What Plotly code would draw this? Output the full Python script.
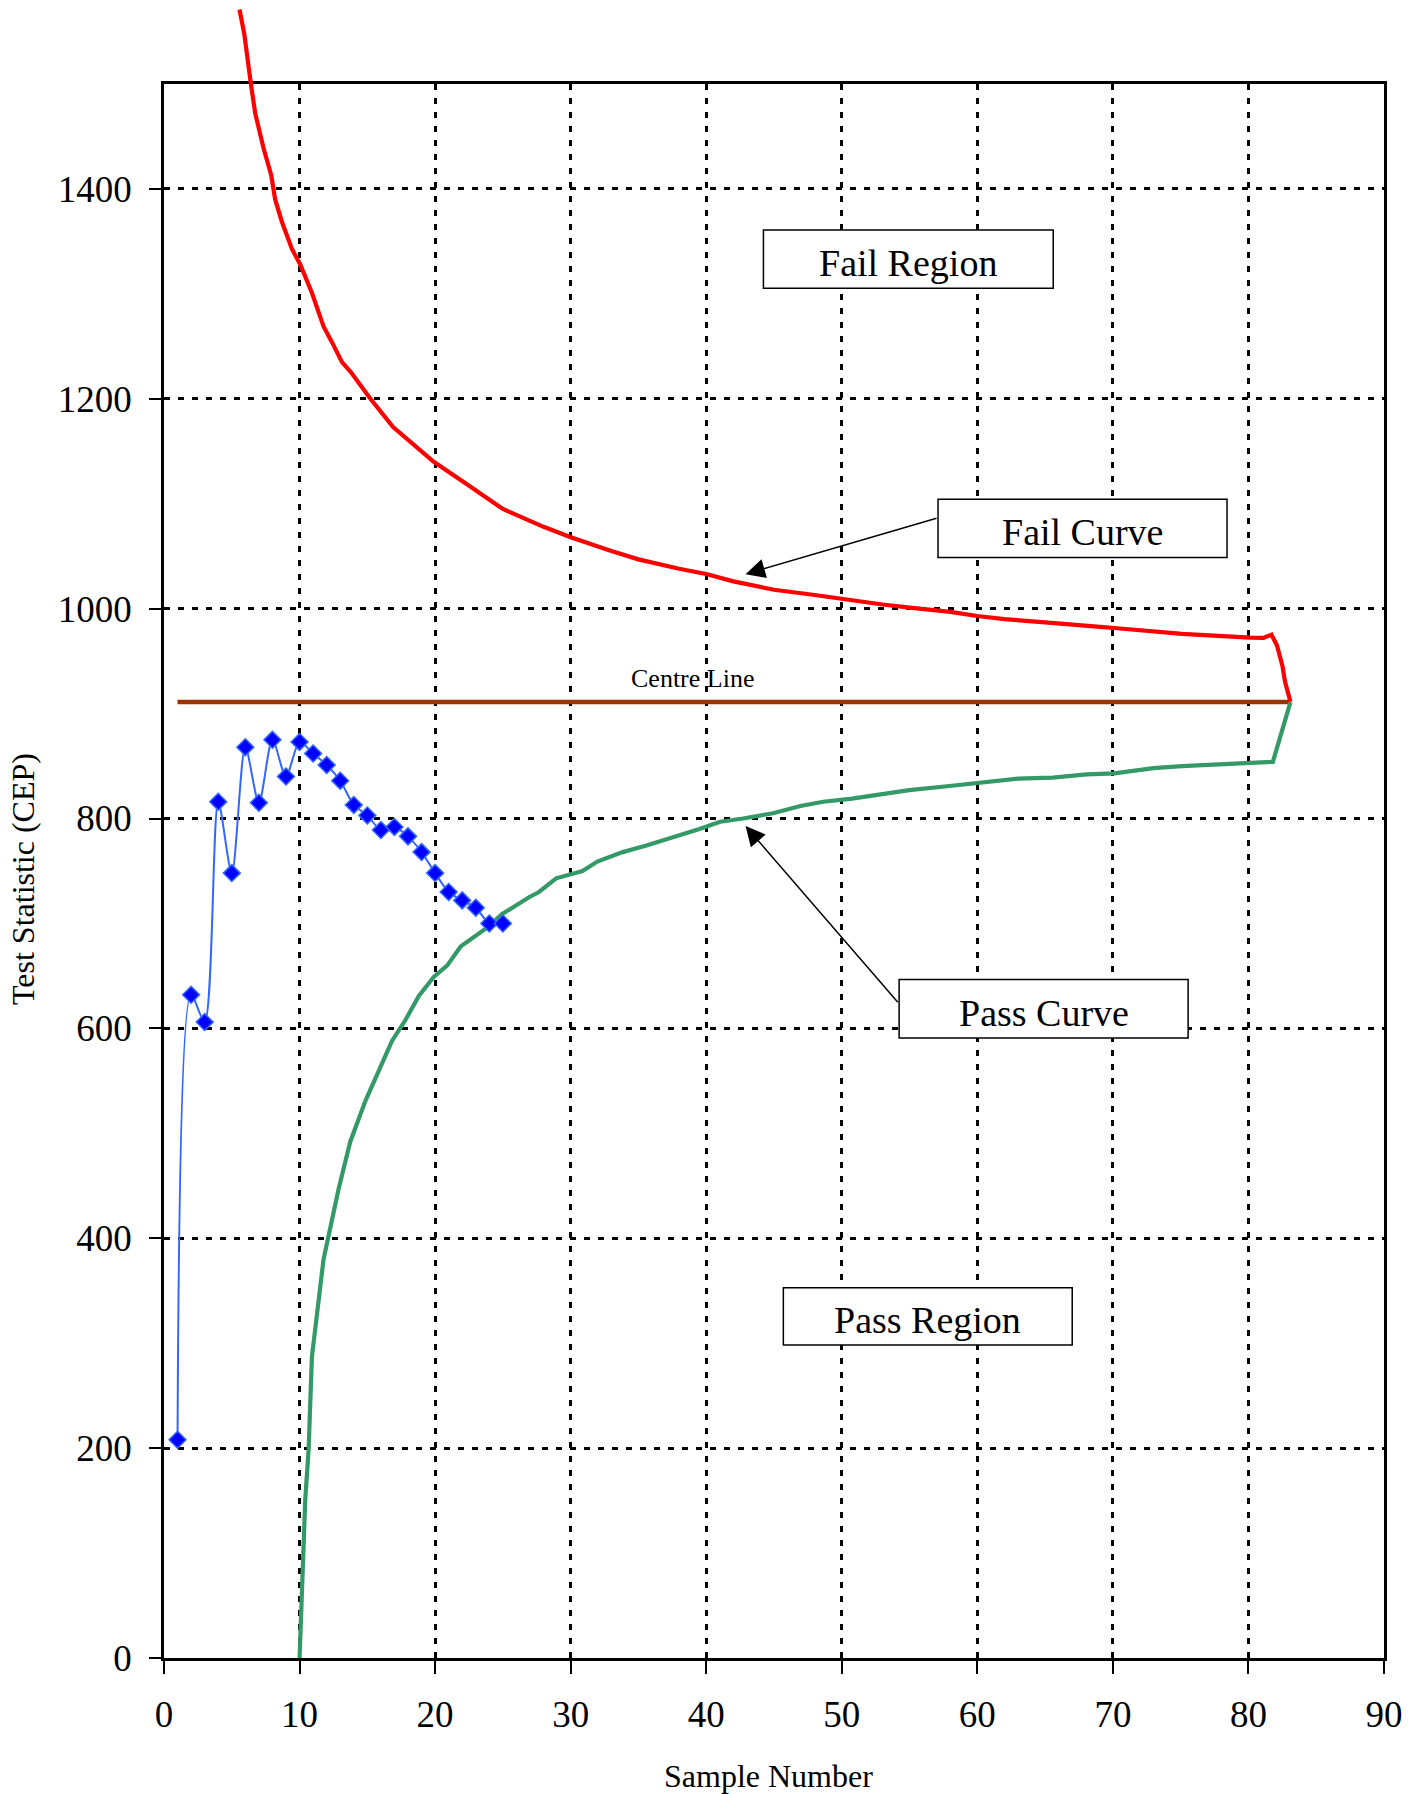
import plotly.graph_objects as go

# ---- data -------------------------------------------------------------
sample_no = list(range(1, 26))
test_stat = [208, 632, 606, 816, 748, 868, 815, 875, 840, 873, 862, 851, 836,
             813, 803, 789, 792, 783, 768, 748, 730, 722, 715, 700, 700]

fail_x = [5.57, 5.93, 6.40, 6.73, 7.34, 7.91, 8.20, 8.69, 9.43, 10.05, 10.91,
          11.77, 12.39, 13.13, 13.75, 14.36, 15.23, 16.9, 19.9, 22.4, 23.7, 25,
          28, 30, 33, 35, 38, 40, 42, 45, 48, 50, 53, 55, 58, 60, 62, 65, 68,
          69.05, 70.1, 72.0, 75.1, 80.1, 81.1, 81.7, 82.1, 82.5, 82.7, 83.1]
fail_y = [1571, 1547, 1501, 1472, 1439, 1413, 1390, 1369, 1343, 1328, 1301,
          1269, 1254, 1235, 1226, 1215, 1200, 1173, 1140, 1118, 1106, 1095,
          1078, 1068, 1055, 1047, 1038, 1033, 1026, 1018, 1013, 1009, 1004,
          1001, 997, 993, 990, 987, 983, 982.6, 981.6, 979.4, 975.9, 972.4,
          972.1, 975.2, 965.1, 946.0, 930.3, 911.2]

pass_x = [10, 10.42, 10.67, 10.91, 11.77, 12.88, 13.74, 14.86, 16.82, 17.81,
          18.8, 19.9, 20.9, 21.88, 23.73, 24.95, 26.93, 27.66, 28.93, 30.87,
          31.97, 33.84, 35.53, 37.64, 39.5, 41.03, 42.72, 44.92, 46.95, 48.64,
          50.76, 52.87, 54.98, 57.95, 60.48, 63.02, 65.55, 68.08, 70.1, 72.0,
          73.0, 75.1, 77.9, 80.1, 81.8, 83.1]
pass_y = [0, 151, 199, 287, 380, 447, 492, 531, 588, 608, 631, 649, 660, 678,
          695, 709, 725, 730, 743, 750, 759, 768, 774, 782, 790, 797, 800, 805,
          812, 816, 819, 823, 827, 831, 834, 838, 839, 842, 843, 846, 848, 850,
          852, 853, 854, 911]

centre_x = [1, 83]
centre_value = 911

x_ticks = list(range(0, 100, 10))
y_ticks = list(range(0, 1600, 200))
X_MAX = 90
Y_MAX = 1500

# ---- geometry ---------------------------------------------------------
W, H = 1419, 1794
M_L, M_R, M_T, M_B = 164, 35, 0, 136
plot_h = H - M_T - M_B
frame_top_px = 84                       # top frame line, px from the top
dom_top = (plot_h - frame_top_px) / plot_h
y2_max = Y_MAX / dom_top                # same scale, extended to the page top

FONT = "Liberation Serif"
GRID = dict(showgrid=True, gridcolor="black", gridwidth=2.5, griddash="6px,8px")

fig = go.Figure()

fig.add_trace(go.Scatter(
    x=centre_x, y=[centre_value] * len(centre_x), mode="lines",
    line=dict(color="#993300", width=4.5), hoverinfo="skip"))

fig.add_trace(go.Scatter(
    x=pass_x, y=pass_y, mode="lines",
    line=dict(color="#339966", width=4.2)))

fig.add_trace(go.Scatter(
    x=sample_no, y=test_stat, mode="lines+markers",
    line=dict(color="#3366FF", width=2, shape="spline", smoothing=0.8),
    marker=dict(symbol="diamond", size=13, color="#0000FF",
                line=dict(color="#3366FF", width=1.5))))

# fail curve runs above the frame, so it lives on a taller twin axis
fig.add_trace(go.Scatter(
    x=fail_x, y=fail_y, mode="lines", xaxis="x2", yaxis="y2",
    line=dict(color="#FF0000", width=4.2)))

# ---- text boxes -------------------------------------------------------
boxes = [
    ("Fail Region", 44.22, 65.6, 1305.3, 1360.9),
    ("Fail Curve", 57.1, 78.42, 1048.7, 1104.3),
    ("Pass Curve", 54.23, 75.55, 590.9, 646.6),
    ("Pass Region", 45.69, 67.0, 298.4, 352.9),
]
shapes = []
annotations = []
for label, x0, x1, y0, y1 in boxes:
    shapes.append(dict(type="rect", xref="x", yref="y", x0=x0, x1=x1,
                       y0=y0, y1=y1, line=dict(color="black", width=1.5),
                       fillcolor="white", layer="above"))
    annotations.append(dict(x=(x0 + x1) / 2, y=(y0 + y1) / 2, xref="x",
                            yref="y", yshift=-4, text=label, showarrow=False,
                            font=dict(family=FONT, size=38, color="black"),
                            xanchor="center", yanchor="middle"))

# arrows from the curve labels to the curves
ARROW = dict(xref="x", yref="y", axref="x", ayref="y", text="",
             showarrow=True, arrowhead=2, arrowsize=2.6, arrowwidth=1.5,
             arrowcolor="black")
annotations.append(dict(x=42.9, y=1032.9, ax=57.1, ay=1086.6, **ARROW))
annotations.append(dict(x=42.9, y=792.8, ax=54.23, ay=623.6, **ARROW))

annotations.append(dict(x=38.97, y=933.3, xref="x", yref="y",
                        text="Centre Line", showarrow=False,
                        font=dict(family=FONT, size=26, color="black")))

# axis titles
annotations.append(dict(x=0.4959, y=0, xref="paper", yref="paper",
                        yshift=-118, text="Sample Number", showarrow=False,
                        xanchor="center", yanchor="middle",
                        font=dict(family=FONT, size=32, color="black")))
annotations.append(dict(x=0, y=(plot_h - 879) / plot_h, xref="paper",
                        yref="paper", xshift=-141, text="Test Statistic (CEP)",
                        textangle=-90, showarrow=False, xanchor="center",
                        yanchor="middle",
                        font=dict(family=FONT, size=32, color="black")))

fig.update_layout(
    width=W, height=H,
    margin=dict(l=M_L, r=M_R, t=M_T, b=M_B, pad=0),
    paper_bgcolor="white", plot_bgcolor="rgba(0,0,0,0)",
    showlegend=False,
    font=dict(family=FONT, size=37, color="black"),
    xaxis=dict(range=[0, X_MAX], tickvals=x_ticks, ticks="outside",
               ticklen=13, tickwidth=2, tickcolor="black",
               showline=True, linecolor="black", linewidth=2.5, mirror=True,
               zeroline=False, ticklabelstandoff=9,
               tickfont=dict(family=FONT, size=37, color="black"),
               anchor="y", **GRID),
    yaxis=dict(range=[0, Y_MAX], domain=[0, dom_top], tickvals=y_ticks,
               ticks="outside", ticklen=12, tickwidth=2, tickcolor="black",
               showline=True, linecolor="black", linewidth=2.5, mirror=True,
               zeroline=False, ticklabelstandoff=10,
               tickfont=dict(family=FONT, size=37, color="black"),
               anchor="x", **GRID),
    xaxis2=dict(range=[0, X_MAX], visible=False, anchor="y2",
                showgrid=False, zeroline=False),
    yaxis2=dict(range=[0, y2_max], domain=[0, 1], visible=False,
                anchor="x2", showgrid=False, zeroline=False),
    shapes=shapes,
    annotations=annotations,
)

fig.write_html("out.html")
